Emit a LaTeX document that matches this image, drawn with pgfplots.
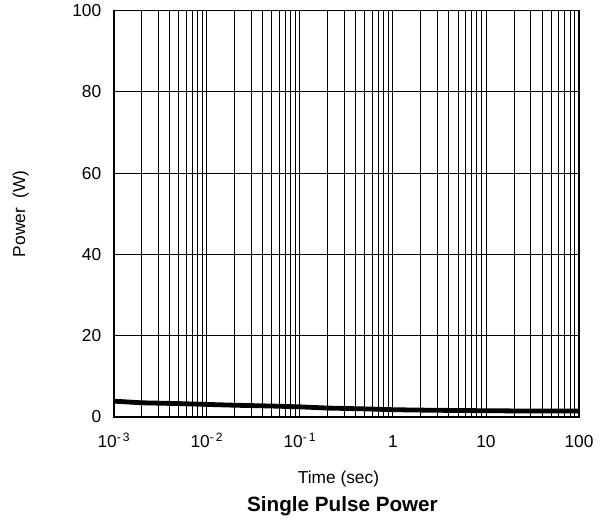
\documentclass[border=0pt]{standalone}
\usepackage{pgfplots}
\pgfplotsset{compat=1.18}
\usepackage{fontspec}
\setmainfont{Liberation Sans}
\begin{document}
\begin{tikzpicture}
\begin{axis}[
  name=main,
  scale only axis,
  width=349pt, height=305pt,
  xmode=log,
  xmin=1e-3, xmax=100,
  ymin=0, ymax=100,
  xtick={1e-3,1e-2,1e-1,1,10,100},
  xticklabels={10\textsuperscript{-\,3},10\textsuperscript{-\,2},10\textsuperscript{-\,1},1,10,100},
  ytick={0,20,40,60,80,100},
  grid=both,
  minor x tick num=8,
  major grid style={black, line width=0.75pt},
  minor grid style={black, line width=0.75pt},
  axis line style={black, line width=1.2pt},
  tick style={draw=none},
  /pgf/number format/assume math mode=true,
  tick label style={font=\fontsize{13}{15}\selectfont},
  xticklabel style={anchor=base, yshift=-22.5pt},
  yticklabel style={anchor=east, xshift=-6pt},
  xlabel={Time (sec)},
  ylabel={Power\ \ (W)},
  xlabel style={font=\fontsize{13}{15}\selectfont, at={(axis description cs:0.5,0)}, anchor=base, yshift=-50pt, xshift=-6pt},
  ylabel style={font=\fontsize{13}{15}\selectfont, at={(axis description cs:0,0.5)}, anchor=center, yshift=70pt},
  clip=false,
]
\addplot[black, line width=3.6pt] coordinates {
 (0.001,3.9) (0.002,3.5) (0.005,3.3) (0.01,3.1) (0.02,2.9) (0.05,2.7) (0.1,2.5)
 (0.2,2.2) (0.5,2.0) (1,1.8) (2,1.7) (5,1.6) (10,1.55) (20,1.5) (50,1.5) (100,1.5)
};
\node[font=\bfseries\fontsize{15.5}{18}\selectfont, anchor=base] at ([yshift=-71pt, xshift=-3pt]rel axis cs:0.5,0) {Single Pulse Power};
\end{axis}
\path ([shift={(-85.5pt,-79.5pt)}]main.south west) rectangle ([shift={(20.25pt,6pt)}]main.north east);
\end{tikzpicture}
\end{document}
